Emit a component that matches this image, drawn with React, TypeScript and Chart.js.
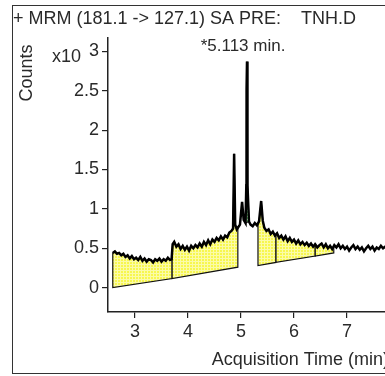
import React, { useEffect, useRef } from "react";
import { Chart, registerables } from "chart.js";

Chart.register(...registerables);

const TITLE = "+ MRM (181.1 -> 127.1) SA PRE:    TNH.D";
const X_TITLE = "Acquisition Time (min)";
const Y_TITLE = "Counts";
const Y_MULT = "x10";
const PEAK_LABEL = "*5.113 min.";
const PEAK_TIME = 5.113;
const PEAK_TOP = 2.87;

const TIMES = [
  2.58, 2.62, 2.66, 2.7, 2.74, 2.78, 2.82, 2.86, 2.9, 2.94, 2.98, 3.02, 3.06, 3.1, 3.14, 3.18,
  3.22, 3.26, 3.3, 3.34, 3.38, 3.42, 3.46, 3.5, 3.54, 3.58, 3.62, 3.66, 3.69, 3.71, 3.74, 3.78,
  3.82, 3.86, 3.9, 3.94, 3.98, 4.02, 4.06, 4.1, 4.14, 4.18, 4.22, 4.26, 4.3, 4.34, 4.38, 4.42,
  4.46, 4.5, 4.54, 4.58, 4.62, 4.66, 4.7, 4.74, 4.78, 4.82, 4.85, 4.87, 4.89, 4.92, 4.95, 4.98,
  5.02, 5.05, 5.085, 5.1, 5.105, 5.113, 5.118, 5.125, 5.15, 5.18, 5.22, 5.26, 5.3, 5.34, 5.38,
  5.41, 5.44, 5.48, 5.52, 5.56, 5.6, 5.64, 5.68, 5.72, 5.76, 5.8, 5.84, 5.88, 5.92, 5.96, 6.0,
  6.04, 6.08, 6.12, 6.16, 6.2, 6.24, 6.28, 6.32, 6.36, 6.4, 6.44, 6.48, 6.52, 6.56, 6.6, 6.64,
  6.68, 6.72, 6.76, 6.8, 6.84, 6.88, 6.92, 6.96, 7.0, 7.04, 7.08, 7.12, 7.16, 7.2, 7.24, 7.28,
  7.32, 7.36, 7.4, 7.44, 7.48, 7.52, 7.56, 7.6, 7.64, 7.68, 7.72, 7.76, 7.8, 7.84, 7.88, 7.92,
];

const COUNTS = [
  0.44, 0.46, 0.43, 0.44, 0.41, 0.43, 0.39, 0.41, 0.37, 0.4, 0.36, 0.38, 0.35, 0.39, 0.34, 0.37,
  0.33, 0.36, 0.35, 0.32, 0.36, 0.34, 0.37, 0.33, 0.36, 0.34, 0.38, 0.35, 0.36, 0.55, 0.58, 0.52,
  0.55, 0.49, 0.53, 0.48, 0.52, 0.47, 0.53, 0.5, 0.54, 0.51, 0.56, 0.52, 0.58, 0.54, 0.6, 0.55,
  0.61, 0.58, 0.63, 0.6, 0.65, 0.61, 0.66, 0.64, 0.7, 0.72, 0.75, 1.7, 0.8, 0.74, 0.77, 0.8,
  1.09, 0.86, 0.82, 1.3, 2.53, 2.87, 2.53, 1.3, 0.84, 0.8, 0.78, 0.82, 0.79, 0.84, 1.1,
  0.85, 0.76, 0.72, 0.74, 0.68, 0.71, 0.66, 0.69, 0.63, 0.66, 0.61, 0.65, 0.59, 0.63, 0.58, 0.61,
  0.56, 0.6, 0.55, 0.58, 0.54, 0.57, 0.53, 0.56, 0.52, 0.55, 0.51, 0.54, 0.56, 0.51, 0.55, 0.5,
  0.53, 0.49, 0.54, 0.51, 0.55, 0.5, 0.53, 0.49, 0.52, 0.47, 0.51, 0.54, 0.49, 0.52, 0.48, 0.51,
  0.46, 0.5, 0.53, 0.49, 0.52, 0.47, 0.51, 0.49, 0.53, 0.5, 0.52, 0.49, 0.52, 0.48, 0.51, 0.49,
];

// integrated (yellow) regions
const SEG_START = [2.58, 3.7, 5.32, 5.66, 6.4];
const SEG_END = [3.7, 4.94, 5.66, 6.4, 6.75];
const BASE_START = [0.0, 0.115, 0.28, 0.32, 0.4];
const BASE_END = [0.115, 0.26, 0.32, 0.4, 0.44];

// main (green) peak region
const PEAK_START = [5.085];
const PEAK_END = [5.15];
const PEAK_BASE_START = [0.82];
const PEAK_BASE_END = [0.84];

const Y_TICKS = [0, 0.5, 1, 1.5, 2, 2.5, 3];
const X_TICKS = [3, 4, 5, 6, 7];

const FONT = '"Liberation Sans", Arial, Helvetica, sans-serif';
const TEXT = "#2a2a2a";

function traceAt(t: number): number {
  for (let i = 0; i < TIMES.length - 1; i++) {
    if (t >= TIMES[i] && t <= TIMES[i + 1]) {
      const f = (t - TIMES[i]) / (TIMES[i + 1] - TIMES[i]);
      return COUNTS[i] + f * (COUNTS[i + 1] - COUNTS[i]);
    }
  }
  return COUNTS[COUNTS.length - 1];
}

function makePattern(bg: string, line: string) {
  const c = document.createElement("canvas");
  c.width = 3;
  c.height = 3;
  const g = c.getContext("2d")!;
  g.fillStyle = bg;
  g.fillRect(0, 0, 3, 3);
  g.fillStyle = line;
  g.fillRect(0, 0, 3, 1);
  g.fillRect(0, 0, 1, 3);
  return g.createPattern(c, "repeat")!;
}

export default function App() {
  const ref = useRef<HTMLCanvasElement>(null);

  useEffect(() => {
    const canvas = ref.current!;
    const ctx0 = canvas.getContext("2d")!;
    const yellow = makePattern("#f7f74e", "#fbfba8");
    const green = makePattern("#5cb862", "#bfe6c0");

    const areaPlugin = {
      id: "areas",
      beforeDatasetsDraw(chart: any) {
        const { ctx, chartArea } = chart;
        const xs = chart.scales.x;
        const ys = chart.scales.y;
        const px = (v: number) => xs.getPixelForValue(v);
        const py = (v: number) => ys.getPixelForValue(v);
        const draw = (t0: number, t1: number, b0: number, b1: number, fill: any) => {
          ctx.beginPath();
          ctx.moveTo(px(t0), py(b0));
          ctx.lineTo(px(t0), py(traceAt(t0)));
          for (let k = 0; k < TIMES.length; k++) {
            if (TIMES[k] > t0 && TIMES[k] < t1) ctx.lineTo(px(TIMES[k]), py(COUNTS[k]));
          }
          ctx.lineTo(px(t1), py(traceAt(t1)));
          ctx.lineTo(px(t1), py(b1));
          ctx.closePath();
          ctx.fillStyle = fill;
          ctx.fill();
          ctx.strokeStyle = "#111";
          ctx.lineWidth = 1.2;
          ctx.stroke();
        };
        ctx.save();
        ctx.beginPath();
        ctx.rect(chartArea.left, chartArea.top, chartArea.right - chartArea.left, chartArea.bottom - chartArea.top);
        ctx.clip();
        for (let i = 0; i < SEG_START.length; i++) {
          draw(SEG_START[i], SEG_END[i], BASE_START[i], BASE_END[i], yellow);
        }
        for (let i = 0; i < PEAK_START.length; i++) {
          draw(PEAK_START[i], PEAK_END[i], PEAK_BASE_START[i], PEAK_BASE_END[i], green);
        }
        ctx.restore();
      },
      afterDraw(chart: any) {
        const { ctx } = chart;
        const xs = chart.scales.x;
        const ys = chart.scales.y;
        ctx.save();
        ctx.fillStyle = TEXT;
        ctx.textBaseline = "middle";
        ctx.font = `18px ${FONT}`;
        ctx.textAlign = "left";
        ctx.fillText(TITLE, 13, 19);
        ctx.font = `17px ${FONT}`;
        ctx.textAlign = "center";
        ctx.fillText(PEAK_LABEL, xs.getPixelForValue(PEAK_TIME) - 4, ys.getPixelForValue(PEAK_TOP) - 15);
        ctx.font = `18px ${FONT}`;
        ctx.textAlign = "right";
        ctx.fillText(Y_MULT, 81, ys.getPixelForValue(3) + 6);
        ctx.fillText(X_TITLE, 389, 360);
        ctx.translate(27, 73);
        ctx.rotate(-Math.PI / 2);
        ctx.textAlign = "center";
        ctx.fillText(Y_TITLE, 0, 0);
        ctx.restore();
      },
    };

    const chart = new Chart(ctx0, {
      type: "line",
      data: {
        datasets: [
          {
            data: TIMES.map((t, i) => ({ x: t, y: COUNTS[i] })),
            borderColor: "#000",
            borderWidth: 2.5,
            pointRadius: 0,
            tension: 0,
            fill: false,
          },
        ],
      },
      options: {
        responsive: false,
        animation: false,
        events: [],
        layout: { padding: { left: 0, right: 22, top: 38, bottom: 0 } },
        plugins: { legend: { display: false }, tooltip: { enabled: false }, title: { display: false } },
        scales: {
          x: {
            type: "linear",
            min: 2.49,
            max: 7.962,
            afterFit: (s: any) => {
              s.height = 64;
            },
            afterBuildTicks: (s: any) => {
              s.ticks = X_TICKS.map((v) => ({ value: v }));
            },
            ticks: {
              font: { family: FONT, size: 18 },
              color: TEXT,
              padding: 3,
              maxRotation: 0,
              autoSkip: false,
            },
            grid: { drawOnChartArea: false, drawTicks: true, tickLength: 6, color: "#222", lineWidth: 1.2 },
            border: { color: "#222", width: 1.5 },
          },
          y: {
            type: "linear",
            min: -0.31,
            max: 3.17,
            afterFit: (s: any) => {
              s.width = 108;
            },
            afterBuildTicks: (s: any) => {
              s.ticks = Y_TICKS.map((v) => ({ value: v }));
            },
            ticks: {
              font: { family: FONT, size: 18 },
              color: TEXT,
              padding: 3,
              callback: (v: any) => String(v),
            },
            grid: { drawOnChartArea: false, drawTicks: true, tickLength: 6, color: "#222", lineWidth: 1.2 },
            border: { color: "#222", width: 1.5 },
          },
        },
      },
      plugins: [areaPlugin],
    });
    return () => chart.destroy();
  }, []);

  return (
    <div style={{ position: "fixed", left: 0, top: 0, width: 385, height: 376, overflow: "hidden", background: "#fff" }}>
      <div
        style={{
          position: "absolute",
          left: 12,
          top: 5,
          width: 420,
          height: 369,
          border: "1.5px solid #333",
          boxSizing: "border-box",
        }}
      />
      <canvas
        ref={ref}
        width={420}
        height={376}
        style={{ position: "absolute", left: 0, top: 0, width: 420, height: 376 }}
      />
    </div>
  );
}
